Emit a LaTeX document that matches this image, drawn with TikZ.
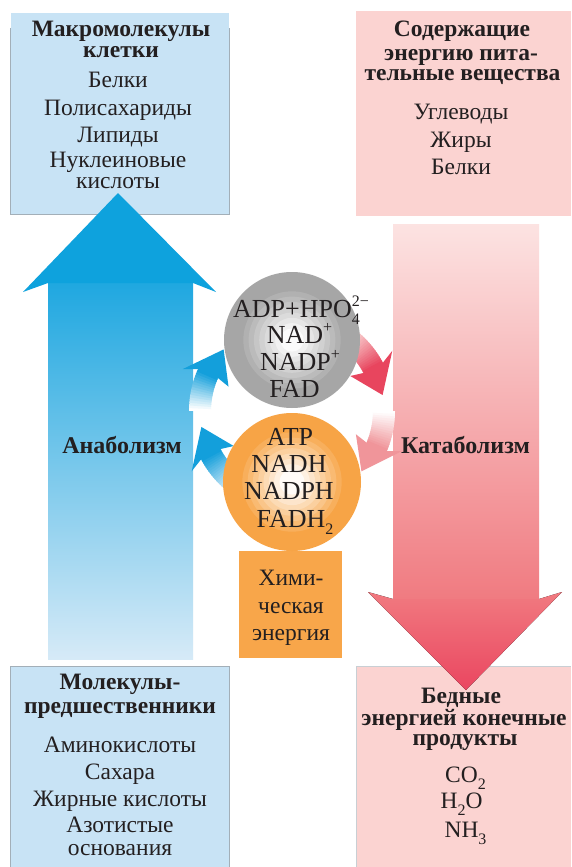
\documentclass[tikz,border=0pt]{standalone}
\usepackage{fontspec}
\setmainfont{Liberation Serif}
\usetikzlibrary{calc}
\definecolor{boxblue}{HTML}{C8E3F5}
\definecolor{boxpink}{HTML}{FBD3D1}
\definecolor{edgegray}{HTML}{A3AFB8}
\definecolor{arrblue}{HTML}{0EA2DD}
\definecolor{shaftbluetop}{HTML}{1EA7E0}
\definecolor{shaftbluebot}{HTML}{D6EAF7}
\definecolor{shaftpinktop}{HTML}{FCE3E2}
\definecolor{shaftpinkbot}{HTML}{F07A80}
\definecolor{headpinktop}{HTML}{F17A80}
\definecolor{headpinkbot}{HTML}{EA4660}
\definecolor{greyc}{HTML}{A6A6A6}
\definecolor{orangec}{HTML}{F7A446}
\definecolor{orangebox}{HTML}{F8A64A}
\definecolor{cblue}{HTML}{139FDB}
\definecolor{cbluefadeA}{HTML}{FFFFFF}
\definecolor{cbluefadeB}{HTML}{C9E6F6}
\definecolor{cpinkA}{HTML}{E8455E}
\definecolor{cpinkfadeA}{HTML}{F8CACB}
\definecolor{cpinkB}{HTML}{F0959A}
\definecolor{cpinkfadeB}{HTML}{FFFFFF}
\definecolor{txt}{HTML}{231F20}
\newcommand\regf{\fontsize{23.5}{27}\selectfont}
\newcommand\boldf{\fontsize{23.5}{21}\selectfont\bfseries}
\newcommand\labf{\fontsize{24}{24}\selectfont\bfseries}
\newcommand\circf{\fontsize{26}{27}\selectfont}
\newcommand\scr{\fontsize{16}{16}\selectfont}
\newcommand\mysup[1]{\smash{\raisebox{0.42em}{\scr #1}}}
\newcommand\mysub[1]{\smash{\raisebox{-0.3em}{\scr #1}}}
\newcommand\curvarrow[4]{%
  \pgfmathsetmacro\hs{#2-18}%
  \pgfmathsetmacro\hb{#2-21}%
  \foreach \i in {0,...,15}{%
    \pgfmathsetmacro\aa{(#1)+(\hs-(#1))*\i/16}%
    \pgfmathsetmacro\bb{(#1)+(\hs-(#1))*(\i+1)/16+0.6}%
    \pgfmathtruncatemacro\pp{\i*100/15}%
    \draw[line width=22pt, color=#4!\pp!#3] ([shift={(cc)}]\aa:92) arc[start angle=\aa, end angle=\bb, radius=92];
  }%
  \fill[#4] ([shift={(cc)}]#2:92) -- ([shift={(cc)}]\hb:117) -- ([shift={(cc)}]\hs:103) -- ([shift={(cc)}]\hs:81) -- ([shift={(cc)}]\hb:68) -- cycle;
}
\begin{document}
\begin{tikzpicture}[x=1pt, y=-1pt,
  boxnode/.style={rectangle, inner sep=0pt, draw=none},
  edgeline/.style={draw=edgegray, line width=0.9pt},
  lbl/.style={anchor=base, inner sep=0pt, text=txt},
  reg/.style={lbl, font=\regf},
  ttl/.style={lbl, font=\boldf},
  circt/.style={lbl, font=\circf}]
\useasboundingbox (0,0) rectangle (571,867);
\fill[white] (0,0) rectangle (571,867);
% boxes
\node[boxnode, fill=boxblue, minimum width=218pt, minimum height=201pt] (tl) at (120,113.5) {};
\node[boxnode, fill=boxpink, minimum width=215pt, minimum height=205pt] (tr) at (463.5,113.5) {};
\node[boxnode, fill=boxblue, minimum width=218pt, minimum height=200pt] (bl) at (120,767) {};
\node[boxnode, fill=boxpink, minimum width=214pt, minimum height=200pt] (br) at (464,767) {};
\node[boxnode, fill=orangebox, minimum width=103pt, minimum height=107pt] (ob) at (290.5,604.5) {};
\draw[edgeline] ($(tl.north west)+(0,15)$) -- (tl.south west) -- (tl.south east) -- ($(tl.north east)+(0,15)$);
\draw[edgeline] (bl.south west) -- (bl.north west) -- (bl.north east) -- (bl.south east);
\draw[edgeline, draw=edgegray!60] (br.south west) -- (br.north west) -- (br.north east);
% big arrows
\fill[top color=shaftbluetop, bottom color=shaftbluebot] (48,280) rectangle (193,659);
\fill[arrblue] (23,292) -- (118,193) -- (216,292) -- (193,283) -- (48,283) -- cycle;
\fill[top color=shaftpinktop, bottom color=shaftpinkbot] (393,224) rectangle (539,602);
\fill[top color=headpinktop, bottom color=headpinkbot] (368,592) -- (393,599) -- (539,599) -- (562,592) -- (466,690) -- cycle;
% curved arrows
\coordinate (cc) at (292,411);
\curvarrow{130}{170}{cbluefadeB}{cblue}
\curvarrow{180}{222}{cbluefadeA}{cblue}
\curvarrow{-50}{-10}{cpinkfadeA}{cpinkA}
\curvarrow{0}{41}{cpinkfadeB}{cpinkB}
% circles
\node[circle, fill=greyc, minimum size=136pt, inner sep=0pt] (gc) at (292,340) {};
\foreach \k in {1,...,8}{%
  \pgfmathsetmacro\rr{54-\k*5.3}%
  \pgfmathtruncatemacro\pc{100-\k*12}%
  \fill[greyc!\pc!white] (gc.center) circle[radius=\rr];
}
\node[circle, fill=orangec, minimum size=138pt, inner sep=0pt] (oc) at (292,482) {};
\foreach \k in {1,...,8}{%
  \pgfmathsetmacro\rr{55-\k*5.3}%
  \pgfmathtruncatemacro\pc{100-\k*12}%
  \fill[orangec!\pc!white] (oc.center) circle[radius=\rr];
}
% top-left text
\node[ttl] (tl1) at (121,37) {Макромолекулы};
\node[ttl] (tl2) at (121,57) {клетки};
\node[reg] (tl3) at (118,87) {Белки};
\node[reg] (tl4) at (118,115) {Полисахариды};
\node[reg] (tl5) at (118,142) {Липиды};
\node[reg] (tl6) at (118,167) {Нуклеиновые};
\node[reg] (tl7) at (118,188) {кислоты};
% top-right text
\node[ttl] (tr1) at (462,37) {Содержащие};
\node[ttl] (tr2) at (461,60) {энергию пита-};
\node[ttl] (tr3) at (462.5,81) {тельные вещества};
\node[reg] (tr4) at (461,119) {Углеводы};
\node[reg] (tr5) at (461,147) {Жиры};
\node[reg] (tr6) at (461,174) {Белки};
% bottom-left text
\node[ttl] (bl1) at (120,689) {Молекулы-};
\node[ttl] (bl2) at (120,713) {предшественники};
\node[reg] (bl3) at (120,752) {Аминокислоты};
\node[reg] (bl4) at (120,779) {Сахара};
\node[reg] (bl5) at (120,806) {Жирные кислоты};
\node[reg] (bl6) at (120,832) {Азотистые};
\node[reg] (bl7) at (120,855) {основания};
% bottom-right text
\node[ttl] (br1) at (461,703) {Бедные};
\node[ttl] (br2) at (464,725) {энергией конечные};
\node[ttl] (br3) at (465,745) {продукты};
\node[reg] (br4) at (465.5,782) {CO\mysub{2}};
\node[reg] (br5) at (461.5,808) {H\mysub{2}O};
\node[reg] (br6) at (465.5,837) {NH\mysub{3}};
% circle text
\node[circt] (g1) at (301,317) {ADP+HPO\makebox[0pt][l]{\mysup{2−}}\mysub{4}\hphantom{\scr −}};
\node[circt] (g2) at (299.5,343) {NAD\mysup{+}};
\node[circt] (g3) at (300,370) {NADP\mysup{+}};
\node[circt] (g4) at (294.5,397) {FAD};
\node[circt] (o1) at (290,445) {ATP};
\node[circt] (o2) at (289,472) {NADH};
\node[circt] (o3) at (289,499) {NADPH};
\node[circt] (o4) at (295,527) {FADH\mysub{2}};
% orange box text
\node[reg] (ob1) at (291,585) {Хими-};
\node[reg] (ob2) at (291,613) {ческая};
\node[reg] (ob3) at (291,640) {энергия};
% labels
\node[lbl, font=\labf] (ana) at (122,453) {Анаболизм};
\node[lbl, font=\labf] (kata) at (465.5,453) {Катаболизм};
\end{tikzpicture}
\end{document}
